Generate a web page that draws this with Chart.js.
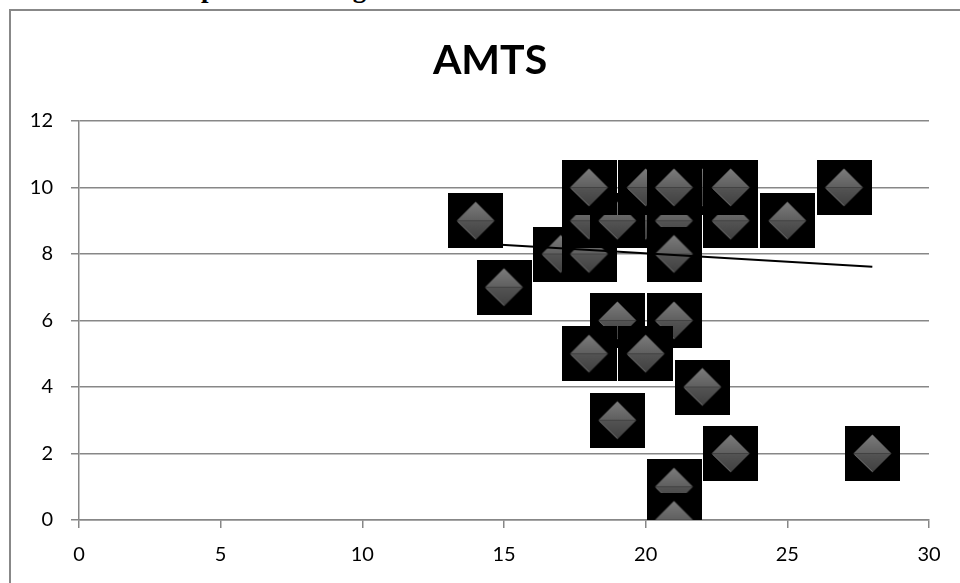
<!DOCTYPE html>
<html>
<head>
<meta charset="utf-8">
<script src="https://cdn.jsdelivr.net/npm/chart.js@4/dist/chart.umd.min.js"></script>
<style>
  html, body { margin: 0; padding: 0; background: #fff; overflow: hidden; }
  #wrap { position: relative; width: 960px; height: 583px; overflow: hidden; }
  #cap { position: absolute; left: 0; top: -25px; width: 980px; text-align: center;
         font-family: "Liberation Serif", "DejaVu Serif", serif; font-weight: bold; font-size: 27px;
         line-height: 27px; color: #000; white-space: nowrap; }
  #frame { position: absolute; left: 9px; top: 9px; width: 1000px; height: 1000px;
           border-left: 2px solid #888; border-top: 2px solid #888; }
  canvas { position: absolute; left: 0; top: 0; }
</style>
</head>
<body>
<div id="wrap">
  <div id="cap">Graph 3: Showing correlation between MMSE and AMTS</div>
  <div id="frame"></div>
  <canvas id="c" width="960" height="583"></canvas>
</div>
<script>
// ---- data ----
const chartTitle = 'AMTS';
const mmse = [14, 15, 17, 18, 18, 20, 21, 19, 23, 25, 18, 22, 23, 20, 21, 27, 21, 19, 21, 18, 20, 22, 19, 23, 28, 21, 21];
const amts = [ 9,  7,  8,  8,  9,  9,  9,  9,  9,  9, 10, 10, 10, 10, 10, 10,  8,  6,  6,  5,  5,  4,  3,  2,  2,  1,  0];
const trendX = [14, 28];
const trendY = [8.32, 7.62];
const xTicks = [0, 5, 10, 15, 20, 25, 30];
const yTicks = [0, 2, 4, 6, 8, 10, 12];

// ---- marker image: black square with shaded grey diamond ----
function makeMarker() {
  const s = 55;
  const cv = document.createElement('canvas');
  cv.width = s; cv.height = s;
  const g = cv.getContext('2d');
  g.fillStyle = '#000';
  g.fillRect(0, 0, s, s);
  const cx = s / 2, cy = s / 2, r = 19;
  let gr = g.createLinearGradient(0, cy - r, 0, cy);
  gr.addColorStop(0, '#7c7c7c');
  gr.addColorStop(1, '#5f5f5f');
  g.fillStyle = gr;
  g.beginPath(); g.moveTo(cx, cy - r); g.lineTo(cx + r, cy); g.lineTo(cx - r, cy); g.closePath(); g.fill();
  gr = g.createLinearGradient(0, cy, 0, cy + r);
  gr.addColorStop(0, '#545454');
  gr.addColorStop(1, '#404040');
  g.fillStyle = gr;
  g.beginPath(); g.moveTo(cx - r, cy); g.lineTo(cx + r, cy); g.lineTo(cx, cy + r); g.closePath(); g.fill();
  g.strokeStyle = 'rgba(140,140,140,0.6)';
  g.lineWidth = 1;
  g.beginPath(); g.moveTo(cx - r + 1, cy + 1); g.lineTo(cx, cy + r - 1); g.stroke();
  return cv;
}
const marker = makeMarker();

const points = mmse.map((x, i) => ({ x: x, y: amts[i] }));
const trend = trendX.map((x, i) => ({ x: x, y: trendY[i] }));

const gridColor = '#878787';
const tickFont = { family: 'Lato, "Open Sans", sans-serif', size: 20 };

// title drawn centred over the (wider) Excel chart area
const titlePlugin = {
  id: 'excelTitle',
  afterDraw(chart) {
    const ctx = chart.ctx;
    ctx.save();
    ctx.font = 'bold 41px Lato, "Open Sans", sans-serif';
    ctx.fillStyle = '#000';
    ctx.textAlign = 'center';
    ctx.textBaseline = 'alphabetic';
    ctx.fillText(chartTitle, 490, 74);
    ctx.restore();
  }
};

new Chart(document.getElementById('c'), {
  type: 'scatter',
  data: {
    datasets: [
      {
        type: 'line',
        label: 'Trend',
        data: trend,
        borderColor: '#000',
        borderWidth: 2,
        pointRadius: 0,
        fill: false,
        tension: 0
      },
      {
        label: 'AMTS',
        data: points,
        pointStyle: marker,
        pointRadius: 27,
        pointHoverRadius: 27
      }
    ]
  },
  plugins: [titlePlugin],
  options: {
    responsive: false,
    animation: false,
    events: [],
    layout: { padding: { left: 10, right: 31, top: 121, bottom: 0 } },
    plugins: {
      legend: { display: false },
      tooltip: { enabled: false },
      title: { display: false }
    },
    scales: {
      x: {
        type: 'linear',
        min: 0, max: 30,
        afterBuildTicks: (s) => { s.ticks = xTicks.map(v => ({ value: v })); },
        afterFit: (s) => { s.height = 63; },
        ticks: { color: '#000', font: tickFont, padding: 15, maxRotation: 0 },
        grid: { drawOnChartArea: false, drawTicks: true, tickLength: 8, color: gridColor, lineWidth: 1.5 },
        border: { display: true, color: gridColor, width: 1.5 }
      },
      y: {
        type: 'linear',
        min: 0, max: 12,
        afterBuildTicks: (s) => { s.ticks = yTicks.map(v => ({ value: v })); },
        afterFit: (s) => { s.width = 69; },
        ticks: { color: '#000', font: tickFont, padding: 18 },
        grid: { drawOnChartArea: true, drawTicks: true, tickLength: 8, color: gridColor, lineWidth: 1.5 },
        border: { display: true, color: gridColor, width: 1.5 }
      }
    }
  }
});
</script>
</body>
</html>
